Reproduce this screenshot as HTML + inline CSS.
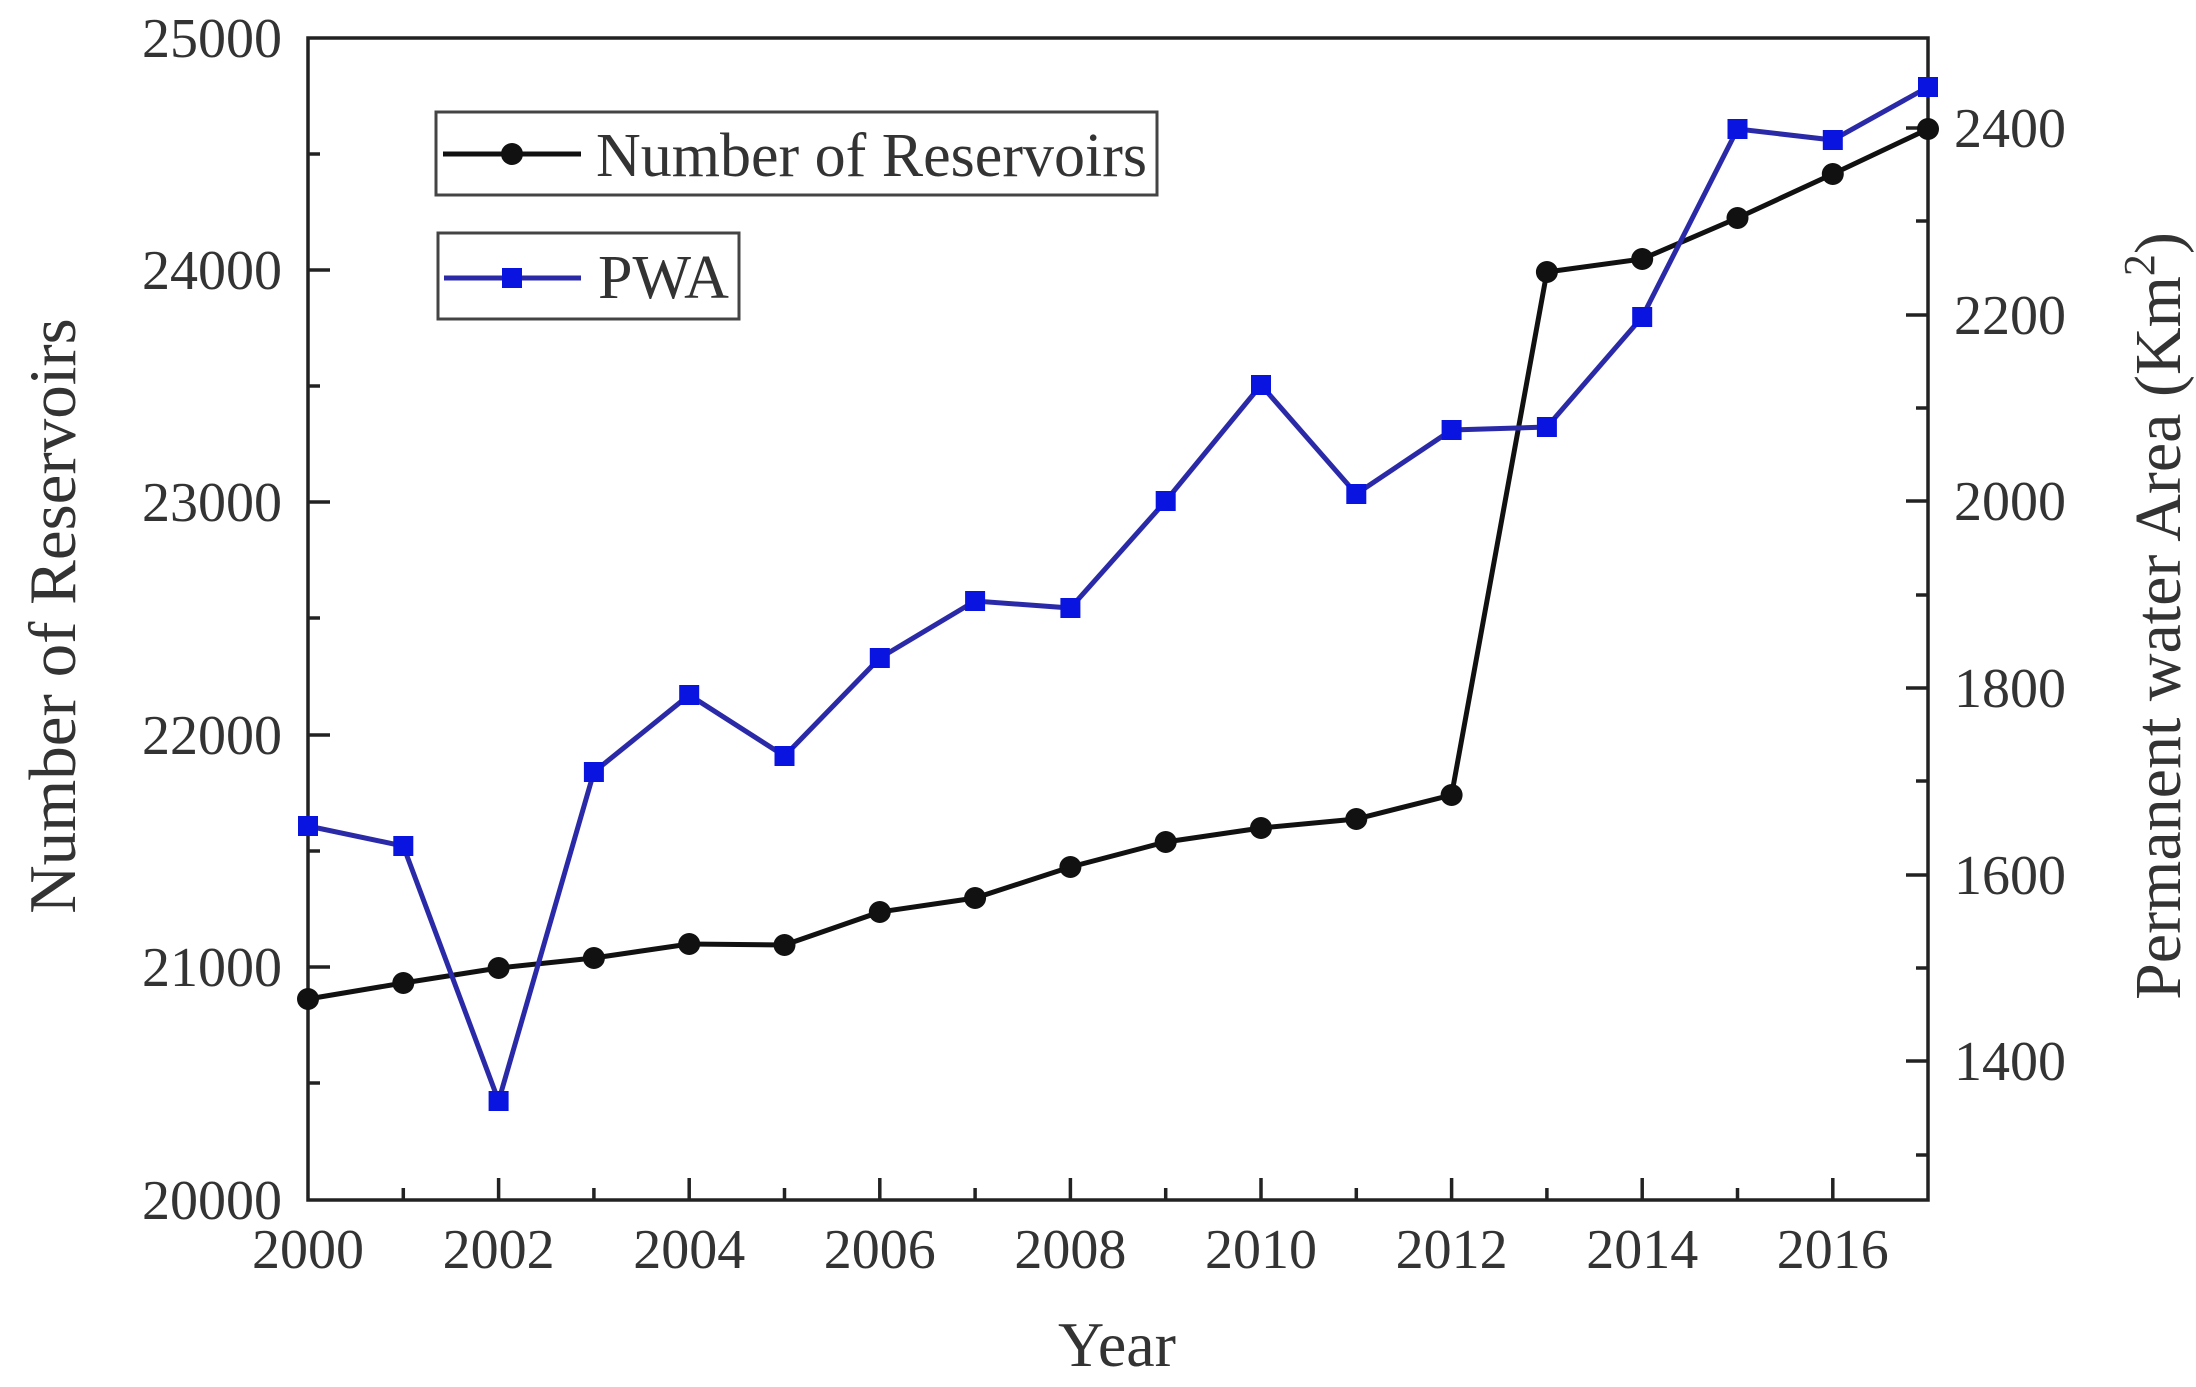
<!DOCTYPE html>
<html><head><meta charset="utf-8"><style>html,body{margin:0;padding:0;background:#fff}svg{display:block}</style></head>
<body>
<svg width="2196" height="1387" viewBox="0 0 2196 1387" xmlns="http://www.w3.org/2000/svg" font-family="Liberation Serif, serif" fill="#333">
<rect x="308" y="38" width="1620" height="1162" fill="none" stroke="#222" stroke-width="3.5"/>
<g stroke="#222" stroke-width="3.5">
<line x1="308" y1="270" x2="330" y2="270"/><line x1="308" y1="502" x2="330" y2="502"/><line x1="308" y1="735" x2="330" y2="735"/><line x1="308" y1="967" x2="330" y2="967"/>
<line x1="308" y1="154" x2="320" y2="154"/><line x1="308" y1="386" x2="320" y2="386"/><line x1="308" y1="618" x2="320" y2="618"/><line x1="308" y1="851" x2="320" y2="851"/><line x1="308" y1="1083" x2="320" y2="1083"/>
<line x1="1928" y1="128" x2="1906" y2="128"/><line x1="1928" y1="315" x2="1906" y2="315"/><line x1="1928" y1="501" x2="1906" y2="501"/><line x1="1928" y1="688" x2="1906" y2="688"/><line x1="1928" y1="875" x2="1906" y2="875"/><line x1="1928" y1="1061" x2="1906" y2="1061"/>
<line x1="1928" y1="221" x2="1916" y2="221"/><line x1="1928" y1="408" x2="1916" y2="408"/><line x1="1928" y1="595" x2="1916" y2="595"/><line x1="1928" y1="781" x2="1916" y2="781"/><line x1="1928" y1="968" x2="1916" y2="968"/><line x1="1928" y1="1155" x2="1916" y2="1155"/>
<line x1="498.6" y1="1200" x2="498.6" y2="1178"/><line x1="689.2" y1="1200" x2="689.2" y2="1178"/><line x1="879.8" y1="1200" x2="879.8" y2="1178"/><line x1="1070.4" y1="1200" x2="1070.4" y2="1178"/><line x1="1261" y1="1200" x2="1261" y2="1178"/><line x1="1451.6" y1="1200" x2="1451.6" y2="1178"/><line x1="1642.2" y1="1200" x2="1642.2" y2="1178"/><line x1="1832.8" y1="1200" x2="1832.8" y2="1178"/>
<line x1="403.3" y1="1200" x2="403.3" y2="1188"/><line x1="593.9" y1="1200" x2="593.9" y2="1188"/><line x1="784.5" y1="1200" x2="784.5" y2="1188"/><line x1="975.1" y1="1200" x2="975.1" y2="1188"/><line x1="1165.7" y1="1200" x2="1165.7" y2="1188"/><line x1="1356.3" y1="1200" x2="1356.3" y2="1188"/><line x1="1546.9" y1="1200" x2="1546.9" y2="1188"/><line x1="1737.5" y1="1200" x2="1737.5" y2="1188"/>
</g>
<g font-size="56" text-anchor="end">
<text x="282" y="57">25000</text><text x="282" y="289">24000</text><text x="282" y="521">23000</text><text x="282" y="754">22000</text><text x="282" y="986">21000</text><text x="282" y="1219">20000</text>
</g>
<g font-size="56" text-anchor="start">
<text x="1954" y="147">2400</text><text x="1954" y="334">2200</text><text x="1954" y="520">2000</text><text x="1954" y="707">1800</text><text x="1954" y="894">1600</text><text x="1954" y="1080">1400</text>
</g>
<g font-size="56" text-anchor="middle">
<text x="308" y="1268">2000</text><text x="498.6" y="1268">2002</text><text x="689.2" y="1268">2004</text><text x="879.8" y="1268">2006</text><text x="1070.4" y="1268">2008</text><text x="1261" y="1268">2010</text><text x="1451.6" y="1268">2012</text><text x="1642.2" y="1268">2014</text><text x="1832.8" y="1268">2016</text>
</g>
<text x="1117" y="1366" font-size="64" text-anchor="middle">Year</text>
<text transform="translate(75,616) rotate(-90)" font-size="67" text-anchor="middle">Number of  Reservoirs</text>
<text transform="translate(2180,616) rotate(-90)" font-size="66" text-anchor="middle">Permanent water Area (Km<tspan font-size="44" dy="-26">2</tspan><tspan dy="26">)</tspan></text>
<polyline fill="none" stroke="#111" stroke-width="5" points="308,999 403.3,983 498.6,968 593.9,958 689.2,944 784.5,945 879.8,912 975.1,898 1070.4,867 1165.7,842 1261,828 1356.3,819 1451.6,795 1546.9,272 1642.2,259 1737.5,218 1832.8,174 1928,129"/>
<g fill="#111">
<circle cx="308" cy="999" r="11"/><circle cx="403.3" cy="983" r="11"/><circle cx="498.6" cy="968" r="11"/><circle cx="593.9" cy="958" r="11"/><circle cx="689.2" cy="944" r="11"/><circle cx="784.5" cy="945" r="11"/><circle cx="879.8" cy="912" r="11"/><circle cx="975.1" cy="898" r="11"/><circle cx="1070.4" cy="867" r="11"/><circle cx="1165.7" cy="842" r="11"/><circle cx="1261" cy="828" r="11"/><circle cx="1356.3" cy="819" r="11"/><circle cx="1451.6" cy="795" r="11"/><circle cx="1546.9" cy="272" r="11"/><circle cx="1642.2" cy="259" r="11"/><circle cx="1737.5" cy="218" r="11"/><circle cx="1832.8" cy="174" r="11"/><circle cx="1928" cy="129" r="11"/>
</g>
<polyline fill="none" stroke="#2a2aa8" stroke-width="5" points="308,826 403.3,846 498.6,1101 593.9,772 689.2,695 784.5,756 879.8,658 975.1,601 1070.4,608 1165.7,501 1261,385 1356.3,494 1451.6,430 1546.9,427 1642.2,317 1737.5,129 1832.8,140 1928,87"/>
<g fill="#0a14e0">
<rect x="298" y="816" width="20" height="20"/><rect x="393.3" y="836" width="20" height="20"/><rect x="488.6" y="1091" width="20" height="20"/><rect x="583.9" y="762" width="20" height="20"/><rect x="679.2" y="685" width="20" height="20"/><rect x="774.5" y="746" width="20" height="20"/><rect x="869.8" y="648" width="20" height="20"/><rect x="965.1" y="591" width="20" height="20"/><rect x="1060.4" y="598" width="20" height="20"/><rect x="1155.7" y="491" width="20" height="20"/><rect x="1251" y="375" width="20" height="20"/><rect x="1346.3" y="484" width="20" height="20"/><rect x="1441.6" y="420" width="20" height="20"/><rect x="1536.9" y="417" width="20" height="20"/><rect x="1632.2" y="307" width="20" height="20"/><rect x="1727.5" y="119" width="20" height="20"/><rect x="1822.8" y="130" width="20" height="20"/><rect x="1918" y="77" width="20" height="20"/>
</g>
<rect x="436" y="112" width="721" height="83" fill="#fff" stroke="#444" stroke-width="3"/>
<line x1="443" y1="154" x2="581" y2="154" stroke="#111" stroke-width="5"/>
<circle cx="512" cy="154" r="11" fill="#111"/>
<text x="596" y="176" font-size="62">Number of  Reservoirs</text>
<rect x="438" y="233" width="301" height="86" fill="#fff" stroke="#444" stroke-width="3"/>
<line x1="444" y1="278" x2="581" y2="278" stroke="#2a2aa8" stroke-width="5"/>
<rect x="502" y="268" width="20" height="20" fill="#0a14e0"/>
<text x="598" y="298" font-size="62">PWA</text>
</svg>
</body></html>
